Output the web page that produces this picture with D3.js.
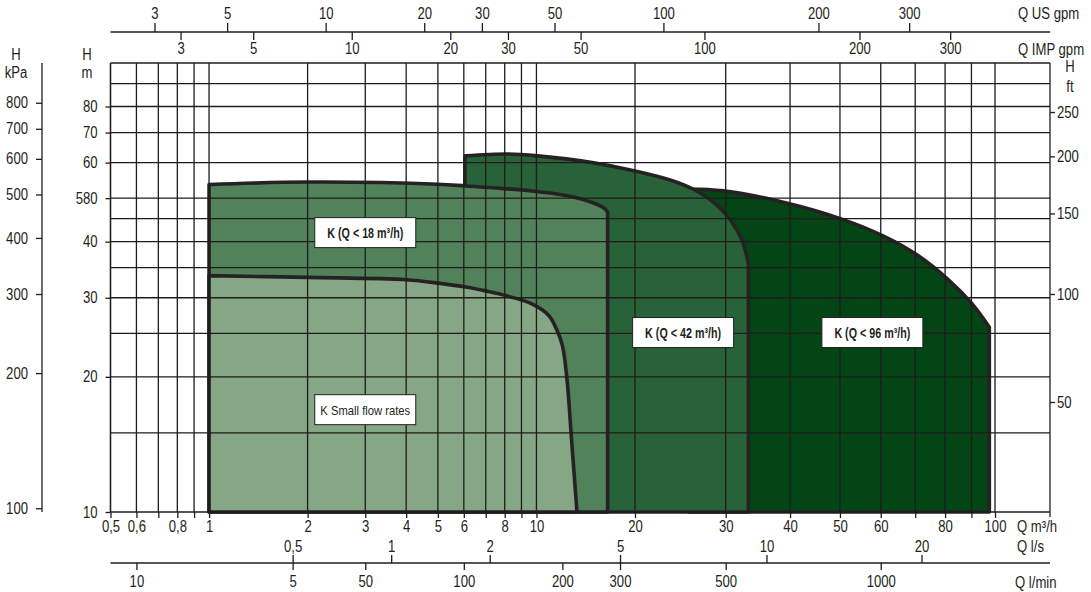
<!DOCTYPE html>
<html>
<head>
<meta charset="utf-8">
<script src="https://d3js.org/d3.v7.min.js"></script>
<style>
    body { margin: 0; background: #fff; }
    svg text {
        font-family: "Liberation Sans", Arial, sans-serif;
        font-size: 16px;
        fill: #231f20;
    }
    .grid line { stroke: #1f1c1d; stroke-width: 1.3; }
    .axis line { stroke: #1f1c1d; stroke-width: 1.3; }
    .frame { stroke: #1f1c1d; stroke-width: 1.3; }
    .zone { stroke: #262223; stroke-width: 3.6; stroke-linejoin: round; }
    .tag rect { fill: #fff; stroke: #231f20; stroke-width: 1; }
    .tag text { text-anchor: middle; }
</style>
<title>K pump range</title>
</head>
<body>
<svg width="1091" height="592"></svg>
<script>
// flow Q m3/h
var qGrid = [0.5, 0.6, 0.7, 0.8, 0.9, 1, 2, 3, 4, 5, 6, 7, 8, 9, 10, 20, 30, 40, 50, 60, 70, 80, 90, 100];
var qLabels = [0.5, 0.6, 0.8, 1, 2, 3, 4, 5, 6, 8, 10, 20, 30, 40, 50, 60, 80, 100];
// head H m
var hGrid = [15, 20, 25, 30, 35, 40, 45, 50, 60, 70, 80, 90];
var hTicks = [10, 20, 30, 40, 50, 60, 70, 80];
var hTickText = ["10", "20", "30", "40", "580", "60", "70", "80"];
var kpaTicks = [100, 200, 300, 400, 500, 600, 700, 800];
var ftTicks = [50, 100, 150, 200, 250];
var usTicks = [3, 5, 10, 20, 30, 50, 100, 200, 300];
var impTicks = [3, 5, 10, 20, 30, 50, 100, 200, 300];
var lsTicks = [0.5, 1, 2, 5, 10, 20];
var lminTicks = [10, 30, 50, 100, 200, 300, 500, 1000];
var lminText = ["10", "5", "50", "100", "200", "300", "500", "1000"];

// performance fields (Q m3/h, H m)
var k96Q = [25.4, 29.7, 39.0, 50.4, 60.9, 71.0, 81.4, 90.2, 97.5];
var k96H = [52.4, 51.9, 48.9, 44.9, 41.1, 37.2, 32.8, 29.1, 25.8];
var k42Q = [6.05, 8.2, 10.1, 14.8, 20, 23.4, 25.9, 28.7, 30.7, 32.3, 33.2];
var k42H = [62.1, 62.7, 62.1, 60.0, 57.5, 54.9, 52.4, 48.5, 44.6, 40.2, 35.7];
var k18Q = [1, 2, 5, 6.1, 9.65, 12.3, 14.8, 16.1, 16.5];
var k18H = [53.6, 54.3, 53.7, 53.2, 51.9, 50.7, 48.9, 47.5, 46.5];
var smallQ = [1, 2.0, 4.0, 5.07, 6.08, 7.1, 8.1, 9.65, 10.9, 11.5, 12.0, 12.4, 12.8, 13.3];
var smallH = [33.6, 33.3, 32.9, 32.3, 31.7, 31.0, 30.3, 29.1, 27.4, 25.6, 23.5, 19.7, 14.5, 10];

var tagText = ["K (Q < 18 m³/h)", "K (Q < 42 m³/h)", "K (Q < 96 m³/h)", "K Small flow rates"];
var tagQ = [3.0, 24.8, 57.8, 3.0];
var tagH = [41.9, 25.1, 25.1, 16.9];

var svg = d3.select("svg");
var pLeft = 110.5, pRight = 1050, pTop = 63, pBottom = 512;
var narrow = 0.82;   // condensed look of the printed lettering

// the printed flow scale has a wider decade above 20 m3/h
var x = d3.scaleLog().domain([0.5, 20, 100]).range([pLeft, 635, 995]);
var y = d3.scaleLog().domain([10, 100]).range([pBottom, pTop]);

function converted(base, factor) {
    return d3.scaleLog().domain(base.domain().map(function (d) { return d / factor; })).range(base.range());
}
var xUS = converted(x, 0.2271);
var xIMP = converted(x, 0.2728);
var xLs = converted(x, 3.6);
var xLmin = converted(x, 0.06);
var yKpa = d3.scaleLog().domain(y.domain().map(function (d) { return d * 9.81; })).range(y.range());
var yFt = d3.scaleLog().domain([50, 100, 250]).range([402, 294, 112]);

var comma = function (d) { return String(d).replace(".", ","); };

// fields, widest first
var area = d3.area()
    .x(function (d) { return x(d[0]); })
    .y0(y(10))
    .y1(function (d) { return y(d[1]); })
    .curve(d3.curveCatmullRom.alpha(0.5));

var zones = [
    { q: k96Q, h: k96H, color: "#034515" },
    { q: k42Q, h: k42H, color: "#286238" },
    { q: k18Q, h: k18H, color: "#52825a" },
    { q: smallQ, h: smallH, color: "#85a785" }
];
svg.append("g").selectAll("path")
    .data(zones)
    .enter().append("path")
    .attr("class", "zone")
    .attr("fill", function (d) { return d.color; })
    .attr("d", function (d) { return area(d3.zip(d.q, d.h)); });

// grid
var grid = svg.append("g").attr("class", "grid");
grid.selectAll(".v").data(qGrid).enter().append("line")
    .attr("x1", function (d) { return x(d); }).attr("x2", function (d) { return x(d); })
    .attr("y1", pTop).attr("y2", pBottom);
grid.selectAll(".h").data(hGrid).enter().append("line")
    .attr("x1", pLeft).attr("x2", pRight)
    .attr("y1", function (d) { return y(d); }).attr("y2", function (d) { return y(d); });

// frame lines
var frame = [
    [pLeft, pTop, pRight, pTop],
    [pLeft, pBottom, pRight, pBottom],
    [pLeft, pTop, pLeft, pBottom],
    [pRight, pTop, pRight, pBottom + 5],
    [pLeft, 32, pRight, 32],
    [pLeft, 563, pRight, 563],
    [42, pTop, 42, pBottom]
];
svg.append("g").selectAll("line").data(frame).enter().append("line")
    .attr("class", "frame")
    .attr("x1", function (d) { return d[0]; }).attr("y1", function (d) { return d[1]; })
    .attr("x2", function (d) { return d[2]; }).attr("y2", function (d) { return d[3]; });

function axis(gen, tx, ty) {
    var g = svg.append("g").attr("class", "axis")
        .attr("transform", "translate(" + tx + "," + ty + ")")
        .call(gen);
    g.select(".domain").remove();
    return g;
}

// top: US gpm above, IMP gpm below
axis(d3.axisTop(xUS).tickValues(usTicks).tickSize(9).tickPadding(4.5).tickFormat(d3.format("d")), 0, 32);
axis(d3.axisBottom(xIMP).tickValues(impTicks).tickSize(8).tickPadding(3).tickFormat(d3.format("d")), 0, 32);

// bottom: m3/h ticks at every grid line, labels on some
axis(d3.axisBottom(x).tickValues(qGrid).tickSize(6).tickPadding(3)
    .tickFormat(function (d) { return qLabels.indexOf(d) >= 0 ? comma(d) : ""; }), 0, pBottom);
axis(d3.axisTop(xLs).tickValues(lsTicks).tickSize(8).tickPadding(3).tickFormat(comma), 0, 563);
axis(d3.axisBottom(xLmin).tickValues(lminTicks).tickSize(7).tickPadding(6)
    .tickFormat(function (d, i) { return lminText[i]; }), 0, 563);

// left: H m and kPa
axis(d3.axisLeft(y).tickValues(hTicks).tickSize(5).tickPadding(8)
    .tickFormat(function (d, i) { return hTickText[i]; }), pLeft, 0);
axis(d3.axisLeft(yKpa).tickValues(kpaTicks).tickSize(6).tickPadding(8).tickFormat(d3.format("d")), 42, 0);

// right: H ft
axis(d3.axisRight(yFt).tickValues(ftTicks).tickSize(5).tickPadding(2).tickFormat(d3.format("d")), pRight, 0);

// axis titles
var titles = [
    ["H", 16, 60, "middle"], ["kPa", 16, 78, "middle"],
    ["H", 87, 60, "middle"], ["m", 87, 78, "middle"],
    ["H", 1070, 72, "middle"], ["ft", 1070, 92, "middle"],
    ["Q US gpm", 1018, 19, "start"], ["Q IMP gpm", 1018, 55, "start"],
    ["Q m³/h", 1017, 532, "start"], ["Q l/s", 1017, 552, "start"], ["Q l/min", 1015, 588, "start"]
];
svg.append("g").attr("class", "titles").selectAll("text").data(titles).enter().append("text")
    .attr("x", function (d) { return d[1]; })
    .attr("y", function (d) { return d[2]; })
    .attr("text-anchor", function (d) { return d[3]; })
    .text(function (d) { return d[0]; });

// squeeze axis lettering horizontally
svg.selectAll(".axis text, .titles text").each(function () {
    var t = d3.select(this);
    var x0 = +t.attr("x") || 0;
    t.attr("x", x0 / narrow).attr("transform", "scale(" + narrow + ",1)");
});

// field labels
var tags = svg.append("g").selectAll("g").data(tagText).enter().append("g")
    .attr("class", "tag")
    .attr("transform", function (d, i) { return "translate(" + x(tagQ[i]) + "," + y(tagH[i]) + ")"; });
tags.append("rect").attr("x", -50.5).attr("y", -15).attr("width", 101).attr("height", 30);
tags.append("text")
    .attr("y", 5)
    .style("font-size", function (d, i) { return i < 3 ? "15px" : "13px"; })
    .style("font-weight", function (d, i) { return i < 3 ? "bold" : "normal"; })
    .attr("textLength", function (d, i) { return i < 3 ? 76 : 90; })
    .attr("lengthAdjust", "spacingAndGlyphs")
    .text(function (d) { return d; });
</script>
</body>
</html>
